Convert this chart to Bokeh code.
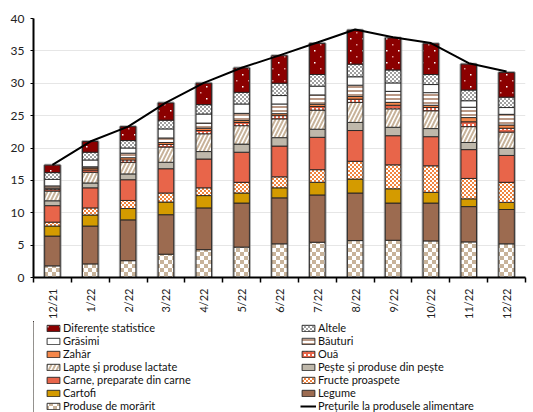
import math
from bokeh.plotting import figure
from bokeh.layouts import column
from bokeh.core.properties import value
from bokeh.models import (ColumnDataSource, Range1d, FixedTicker, Legend, LegendItem,
                          CanvasTexture)
from bokeh.embed import file_html
from bokeh.resources import INLINE

months = ["12/21", "1/22", "2/22", "3/22", "4/22", "5/22", "6/22", "7/22", "8/22",
          "9/22", "10/22", "11/22", "12/22"]

morarit = [1.8, 2.1, 2.6, 3.6, 4.3, 4.7, 5.2, 5.45, 5.7, 5.75, 5.65, 5.5, 5.2]
legume = [4.6, 5.85, 6.3, 6.1, 6.45, 6.8, 7.1, 7.3, 7.35, 5.75, 5.85, 5.45, 5.3]
cartofi = [1.55, 1.7, 1.75, 1.95, 1.9, 1.55, 1.55, 1.95, 2.15, 2.2, 1.65, 1.2, 1.1]
fructe = [0.6, 1.1, 1.25, 1.4, 1.2, 1.65, 1.7, 1.95, 2.75, 3.7, 4.1, 3.15, 3.1]
carne = [2.55, 3.1, 3.2, 3.75, 4.45, 4.65, 4.75, 5.0, 4.75, 4.5, 4.5, 4.45, 4.15]
peste = [0.75, 0.75, 0.9, 1.0, 1.15, 1.25, 1.3, 1.25, 1.25, 1.3, 1.25, 1.1, 1.1]
lapte = [1.5, 1.65, 1.8, 2.35, 2.75, 2.85, 2.9, 2.95, 3.1, 2.85, 2.75, 2.45, 2.5]
oua = [0.3, 0.35, 0.35, 0.4, 0.5, 0.5, 0.5, 0.55, 0.5, 0.55, 0.5, 0.75, 0.6]
zahar = [0.15, 0.3, 0.35, 0.3, 0.35, 0.3, 0.3, 0.35, 0.4, 0.45, 0.35, 0.65, 0.5]
bauturi = [0.35, 0.2, 0.7, 0.7, 0.8, 1.1, 1.5, 1.45, 1.75, 1.7, 1.95, 1.6, 1.65]
grasimi = [1.0, 1.05, 0.8, 1.4, 1.4, 1.45, 1.3, 1.35, 1.3, 1.3, 1.25, 1.0, 1.05]
altele = [1.05, 1.2, 1.15, 1.35, 1.45, 1.8, 1.9, 1.8, 1.95, 2.0, 1.55, 1.65, 1.6]
diferente = [1.15, 1.65, 2.15, 2.65, 3.3, 3.75, 4.25, 4.8, 5.25, 4.95, 4.75, 4.0, 3.8]
preturi = [17.4, 21.0, 23.3, 27.0, 30.05, 32.4, 34.3, 36.3, 38.3, 37.1, 36.2, 33.1, 31.8]

series = [
    ("morarit", morarit, "Produse de morărit"),
    ("legume", legume, "Legume"),
    ("cartofi", cartofi, "Cartofi"),
    ("fructe", fructe, "Fructe proaspete"),
    ("carne", carne, "Carne, preparate din carne"),
    ("peste", peste, "Pește și produse din pește"),
    ("lapte", lapte, "Lapte și produse lactate"),
    ("oua", oua, "Ouă"),
    ("zahar", zahar, "Zahăr"),
    ("bauturi", bauturi, "Băuturi"),
    ("grasimi", grasimi, "Grăsimi"),
    ("altele", altele, "Altele"),
    ("dif", diferente, "Diferențe statistice"),
]


def tex(size, body):
    # size the tile canvas explicitly, then paint the tile
    code = ("var c = ctx.canvas; if (c) { c.width = %d; c.height = %d; } " % (size, size)) + body
    return CanvasTexture(code=code)


textures = {
    "check8": tex(8, "ctx.fillStyle = '#ffffff'; ctx.fillRect(0, 0, 4, 4); ctx.fillRect(4, 4, 4, 4);"),
    "check4": tex(4, "ctx.fillStyle = '#ffffff'; ctx.fillRect(0, 0, 2, 2); ctx.fillRect(2, 2, 2, 2);"),
    "dots4": tex(4, "ctx.fillStyle = '#ffffff'; ctx.fillRect(0, 0, 2, 2);"),
    "sparse": tex(12, "ctx.fillStyle = '#ffffff'; ctx.fillRect(2, 2, 1.5, 1.5); "
                      "ctx.fillStyle = '#e09a9a'; ctx.fillRect(8, 8, 1.5, 1.5);"),
}

# style per series: fill, hatch pattern, hatch color, hatch scale, hatch weight
styles = {
    "morarit": ("#c8b39a", value("check8"), "white", 8, 1),
    "legume": ("#9c6b50", None, "black", 6, 1),
    "cartofi": ("#d49b00", None, "black", 6, 1),
    "fructe": ("#f0843f", value("check4"), "white", 4, 1),
    "carne": ("#e8654a", None, "black", 6, 1),
    "peste": ("#bfb8ab", None, "black", 6, 1),
    "lapte": ("white", "right_diagonal_line", "#c8b39a", 8, 2),
    "oua": ("#e8654a", value("dots4"), "white", 4, 1),
    "zahar": ("#f5874a", None, "black", 6, 1),
    "bauturi": ("white", "horizontal_line", "#9c6b50", 4, 1.4),
    "grasimi": ("white", None, "black", 6, 1),
    "altele": ("#a0a0a0", value("check4"), "white", 4, 1),
    "dif": ("#8b0000", value("sparse"), "white", 12, 1),
}

keys = [k for k, _, _ in series]
labels = {k: lab for k, _, lab in series}
x = list(range(len(months)))
data = {"x": x}
for key, vals, _ in series:
    data[key] = vals
data["total"] = [sum(v[i] for _, v, _ in series) for i in range(len(months))]
data["preturi"] = preturi
src = ColumnDataSource(data)

W = 533
p = figure(width=W, height=321, output_backend="svg", toolbar_location=None,
           x_range=Range1d(-0.5, len(months) - 0.5), y_range=Range1d(0, 40),
           min_border_left=33, min_border_right=8, min_border_top=18, min_border_bottom=0)
p.outline_line_color = None


def bars(fig, source):
    return fig.vbar_stack(keys, x="x", width=0.41, source=source,
                          fill_color=[styles[k][0] for k in keys],
                          hatch_pattern=[styles[k][1] for k in keys],
                          hatch_color=[styles[k][2] for k in keys],
                          hatch_scale=[styles[k][3] for k in keys],
                          hatch_weight=[styles[k][4] for k in keys],
                          hatch_extra=textures,
                          line_color="#222222", line_width=0.9)


# gray halo around each bar
p.vbar(x="x", top="total", bottom=0, width=0.41, source=src, fill_color=None,
       line_color="#8a8a8a", line_alpha=0.7, line_width=3)
bars(p, src)
p.line(x="x", y="preturi", source=src, line_color="black", line_width=2)

# axes
p.xaxis.ticker = FixedTicker(ticks=x, minor_ticks=[i - 0.5 for i in range(len(months) + 1)])
p.xaxis.major_label_overrides = {i: m for i, m in enumerate(months)}
p.xaxis.major_label_orientation = math.pi / 2
p.xaxis.major_tick_line_color = None
p.xaxis.major_tick_out = 0
p.xaxis.major_tick_in = 0
p.xaxis.minor_tick_line_color = "black"
p.xaxis.minor_tick_out = 5
p.xaxis.minor_tick_in = 0
p.xaxis.minor_tick_line_width = 1.5
p.xaxis.major_label_standoff = 6
p.xaxis.axis_label_standoff = 0
p.xaxis.major_label_text_font = "Lato"
p.xaxis.major_label_text_font_size = "11px"
p.xaxis.major_label_text_color = "#222222"
p.xaxis.axis_line_width = 2
p.xaxis.axis_line_color = "black"

p.yaxis.ticker = FixedTicker(ticks=[0, 5, 10, 15, 20, 25, 30, 35, 40])
p.yaxis.major_tick_out = 3
p.yaxis.major_tick_in = 0
p.yaxis.minor_tick_line_color = None
p.yaxis.major_label_standoff = 6
p.yaxis.major_label_text_font = "Lato"
p.yaxis.major_label_text_font_size = "12px"
p.yaxis.major_label_text_color = "#222222"
p.yaxis.axis_line_width = 2
p.yaxis.axis_line_color = "black"

p.xgrid.grid_line_color = None
p.ygrid.grid_line_color = "#e6e6e6"
p.ygrid.ticker = FixedTicker(ticks=[5, 10, 15, 20, 25, 30, 35, 40])

# legend panel: a second figure whose frame holds the two legend columns;
# its renderers carry one row placed outside the visible range
pl = figure(width=W, height=91, output_backend="svg", toolbar_location=None,
            x_range=Range1d(0, 1), y_range=Range1d(0, 1),
            x_axis_location=None, y_axis_location=None, min_border=0)
pl.outline_line_color = None
pl.grid.visible = False
hidden = ColumnDataSource({"x": [-5], **{k: [1] for k in keys}, "preturi": [1]})
lrs = dict(zip(keys, bars(pl, hidden)))
lline = pl.line(x="x", y="preturi", source=hidden, line_color="black", line_width=2)

left_keys = ["dif", "grasimi", "zahar", "lapte", "carne", "cartofi", "morarit"]
right_keys = ["altele", "bauturi", "oua", "peste", "fructe", "legume"]
left_items = [LegendItem(label=labels[k], renderers=[lrs[k]]) for k in left_keys]
right_items = [LegendItem(label=labels[k], renderers=[lrs[k]]) for k in right_keys]
right_items.append(LegendItem(label="Prețurile la produsele alimentare", renderers=[lline]))


def make_legend(items, loc):
    lg = Legend(items=items, location=loc, orientation="vertical")
    lg.label_text_font = "Lato"
    lg.label_text_font_size = "11px"
    lg.label_text_color = "#111111"
    lg.glyph_width = 16
    lg.glyph_height = 8
    lg.label_height = 12
    lg.label_standoff = 2
    lg.spacing = 0
    lg.padding = 0
    lg.margin = 0
    lg.border_line_color = None
    lg.background_fill_alpha = 0
    return lg


pl.add_layout(make_legend(left_items, (12, 0)), "center")
pl.add_layout(make_legend(right_items, (267, 0)), "center")

layout = column(p, pl, spacing=0)
open("out.html", "w").write(file_html(layout, INLINE))
